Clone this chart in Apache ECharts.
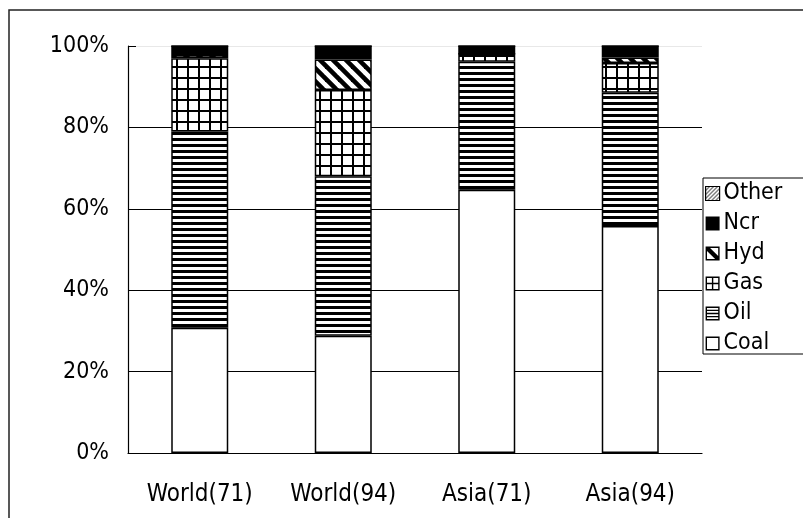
<!DOCTYPE html>
<html>
<head>
<meta charset="utf-8">
<script src="https://cdn.jsdelivr.net/npm/echarts@6/dist/echarts.min.js"></script>
<style>html,body{margin:0;padding:0;background:#fff}#c{width:803px;height:518px}</style>
</head>
<body>
<div id="c"></div>
<script>
const categories = ['World(71)', 'World(94)', 'Asia(71)', 'Asia(94)'];
const coal  = [30.8, 28.8, 64.7, 55.8];
const oil   = [48.2, 39.2, 31.4, 32.7];
const gas   = [18.0, 21.2, 2.0, 7.3];
const hyd   = [0.8, 7.5, 0.0, 1.4];
const ncr   = [2.2, 3.3, 1.9, 2.8];
const other = [0.0, 0.0, 0.0, 0.0];
const yTicks = [0, 20, 40, 60, 80, 100];

function pat(w, h, draw) {
  const c = document.createElement('canvas');
  c.width = w; c.height = h;
  const g = c.getContext('2d');
  g.fillStyle = '#fff'; g.fillRect(0, 0, w, h);
  g.fillStyle = '#000'; g.strokeStyle = '#000';
  draw(g, w, h);
  return { image: c, repeat: 'repeat' };
}
const oilPat = pat(6, 6, g => { g.fillRect(0, 0, 6, 3); });
const gasPat = pat(11, 11, g => { g.fillRect(0, 0, 2, 11); g.fillRect(0, 0, 11, 2); });
const hydPat = pat(13, 13, (g, w, h) => {
  g.lineWidth = 4.6;
  for (let k = -1; k <= 1; k++) {
    g.beginPath(); g.moveTo(k * w - 2, -2); g.lineTo(k * w + w + 2, h + 2); g.stroke();
  }
});
const otherPat = pat(4, 4, (g, w, h) => {
  g.lineWidth = 1;
  for (let k = -1; k <= 1; k++) {
    g.beginPath(); g.moveTo(k * w - 1, h + 1); g.lineTo(k * w + w + 1, -1); g.stroke();
  }
});

const FONT = '"DejaVu Sans Condensed", "Liberation Sans Narrow", sans-serif';
const names = ['Coal', 'Oil', 'Gas', 'Hyd', 'Ncr', 'Other'];
const values = [coal, oil, gas, hyd, ncr, other];
const fills = ['#fff', oilPat, gasPat, hydPat, '#000', otherPat];

const BOX = 'M0 0H100V100H0Z';
const icons = {
  Coal: 'path://' + BOX + 'M10 10V90H90V10Z',
  Oil: 'path://' + BOX + 'M10 10V23H90V10Z M10 33V45H90V33Z M10 55V67H90V55Z M10 77V90H90V77Z',
  Gas: 'path://' + BOX + 'M10 10V45H45V10Z M55 10V45H90V10Z M10 55V90H45V55Z M55 55V90H90V55Z',
  Hyd: 'path://' + BOX + 'M32 10L90 68L90 10Z M10 32L10 90L68 90Z',
  Ncr: 'rect'
};

const series = names.map((n, i) => ({
  name: n,
  type: 'bar',
  stack: 'total',
  barWidth: 57,
  data: values[i],
  itemStyle: { color: fills[i], borderColor: '#000', borderWidth: 1.5 },
  emphasis: { disabled: true },
  animation: false
}));

const legendOrder = ['Other', 'Ncr', 'Hyd', 'Gas', 'Oil', 'Coal'];
const legendData = legendOrder.map(n => {
  if (n === 'Other') return { name: n, icon: 'rect', itemStyle: { borderColor: '#000', borderWidth: 1.2 } };
  return { name: n, icon: icons[n], itemStyle: { color: '#000', borderWidth: 0 } };
});

const chart = echarts.init(document.getElementById('c'), null, { renderer: 'canvas' });
chart.setOption({
  animation: false,
  backgroundColor: '#fff',
  grid: { left: 128, right: 101, top: 46, bottom: 65, containLabel: false },
  xAxis: {
    type: 'category',
    data: categories,
    axisLine: { lineStyle: { color: '#000', width: 1.2 } },
    axisTick: { inside: true, length: 9, lineStyle: { color: '#000' } },
    axisLabel: { color: '#000', fontFamily: FONT, fontSize: 24, margin: 30 }
  },
  yAxis: {
    type: 'value',
    min: yTicks[0], max: yTicks[yTicks.length - 1], interval: 20,
    axisLine: { show: true, lineStyle: { color: '#000', width: 1.2 } },
    axisTick: { show: true, inside: true, length: 8, lineStyle: { color: '#000' } },
    axisLabel: { color: '#000', fontFamily: FONT, fontSize: 23, margin: 19, formatter: '{value}%' },
    splitLine: { show: true, lineStyle: { color: ['#000', '#000', '#000', '#000', '#000', '#e8e8e8'], width: 1 } }
  },
  legend: {
    orient: 'vertical',
    left: 705, top: 182,
    padding: 0,
    itemGap: 7,
    itemWidth: 14, itemHeight: 14,
    data: legendData,
    textStyle: { color: '#000', fontFamily: FONT, fontSize: 23, lineHeight: 22.5, padding: [0, 0, 0, -1] },
    selectedMode: false
  },
  graphic: [
    { type: 'rect', silent: true, z: -1, shape: { x: 9, y: 10, width: 830, height: 560 }, style: { fill: null, stroke: '#222', lineWidth: 1.5 } },
    { type: 'rect', silent: true, z: -1, shape: { x: 703, y: 178, width: 150, height: 176 }, style: { fill: '#fff', stroke: '#000', lineWidth: 1 } }
  ],
  series: series
});
</script>
</body>
</html>
